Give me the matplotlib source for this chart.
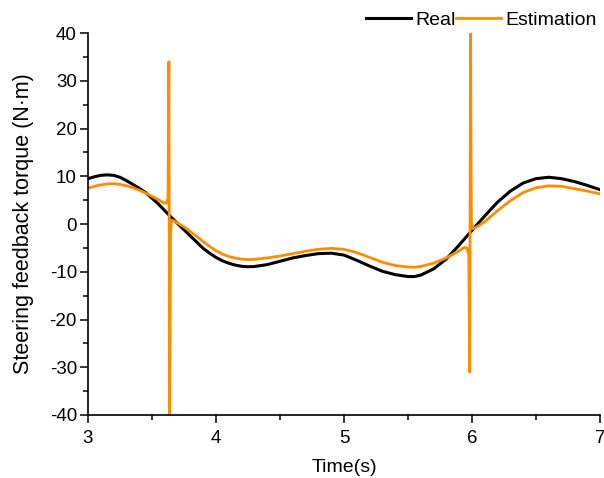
import numpy as np
import matplotlib
matplotlib.use('Agg')
import matplotlib.pyplot as plt
from matplotlib.ticker import MultipleLocator

plt.rcParams['font.family'] = ['Liberation Sans', 'DejaVu Sans']
plt.rcParams['axes.unicode_minus'] = False  # hyphen minus like the original

# Real torque
t_real = [3.0, 3.05, 3.1, 3.15, 3.2, 3.25, 3.3, 3.35, 3.4, 3.45, 3.5, 3.55, 3.6,
          3.65, 3.7, 3.75, 3.8, 3.85, 3.9, 3.95, 4.0, 4.05, 4.1, 4.15, 4.2, 4.25,
          4.3, 4.4, 4.5, 4.6, 4.7, 4.8, 4.9, 5.0, 5.1, 5.2, 5.3, 5.4, 5.5, 5.55,
          5.6, 5.7, 5.8, 5.9, 6.0, 6.1, 6.2, 6.3, 6.4, 6.5, 6.6, 6.7, 6.8, 6.9, 7.0]
y_real = [9.5, 9.9, 10.2, 10.3, 10.2, 9.8, 9.1, 8.3, 7.5, 6.6, 5.4, 4.2, 2.8,
          1.4, 0.1, -1.2, -2.5, -3.8, -5.1, -6.1, -7.0, -7.7, -8.2, -8.6, -8.85, -8.95,
          -8.9, -8.5, -7.8, -7.1, -6.6, -6.2, -6.1, -6.5, -7.6, -8.8, -9.9, -10.6, -11.0, -11.0,
          -10.7, -9.4, -7.3, -4.4, -1.3, 1.7, 4.6, 6.9, 8.6, 9.5, 9.8, 9.5, 8.9, 8.1, 7.2]

# Estimated torque, with the two spikes
t_est = [3.0, 3.05, 3.1, 3.15, 3.2, 3.25, 3.3, 3.35, 3.4, 3.45, 3.5, 3.55, 3.58,
         3.6, 3.615, 3.625, 3.632, 3.638, 3.645, 3.652, 3.66, 3.68, 3.7, 3.75, 3.8,
         3.85, 3.9, 3.95, 4.0, 4.05, 4.1, 4.15, 4.2, 4.25, 4.3, 4.4, 4.5, 4.6, 4.7,
         4.8, 4.9, 5.0, 5.1, 5.2, 5.3, 5.4, 5.5, 5.55, 5.6, 5.7, 5.8, 5.9, 5.94,
         5.96, 5.975, 5.982, 5.988, 5.995, 6.005, 6.02, 6.05, 6.1, 6.2, 6.3, 6.4,
         6.5, 6.6, 6.7, 6.8, 6.9, 7.0]
y_est = [7.5, 7.9, 8.2, 8.4, 8.45, 8.3, 8.0, 7.6, 7.1, 6.5, 5.8, 5.1, 4.6,
         4.35, 4.4, 5.5, 34.0, -40.0, -2.0, 0.6, 0.8, 0.5, 0.2, -0.6, -1.6,
         -2.6, -3.7, -4.7, -5.6, -6.3, -6.8, -7.15, -7.35, -7.45, -7.4, -7.1, -6.7, -6.2, -5.7,
         -5.3, -5.1, -5.3, -6.0, -7.0, -8.0, -8.7, -9.0, -9.05, -8.9, -8.2, -7.1, -5.6, -4.9,
         -5.0, -6.5, -31.0, 40.0, 0.5, -1.0, -0.8, -0.4, 0.5, 2.8, 4.9, 6.6,
         7.6, 8.0, 7.9, 7.4, 6.9, 6.3]

fig = plt.figure(figsize=(6.04, 4.78), dpi=100)
ax = fig.add_axes([0.1457, 0.1318, 0.8477, 0.799])

ax.plot(t_real, y_real, color='black', lw=2.2, label='Real')
ax.plot(t_est, y_est, color='#FF8C00', lw=2.0, label='Estimation')

ax.set_xlim(3, 7)
ax.set_ylim(-40, 40)
ax.xaxis.set_major_locator(MultipleLocator(1))
ax.xaxis.set_minor_locator(MultipleLocator(0.5))
ax.yaxis.set_major_locator(MultipleLocator(10))
ax.yaxis.set_minor_locator(MultipleLocator(5))

for s in ['top', 'right']:
    ax.spines[s].set_visible(False)
for s in ['left', 'bottom']:
    ax.spines[s].set_linewidth(1.2)

ax.tick_params(which='major', direction='out', length=5.5, width=1.1, labelsize=13.5, pad=2.5)
ax.tick_params(axis='x', which='major', pad=5)
ax.tick_params(which='minor', direction='out', length=3.5, width=1.1)

ax.set_xlabel('Time(s)', fontsize=14, labelpad=9)
ax.set_ylabel('Steering feedback torque (N·m)', fontsize=15.5, labelpad=11)

fig.legend(loc='center', bbox_to_anchor=(0.797, 0.958), ncol=2, frameon=False,
           fontsize=14, handlelength=2.3, handletextpad=0.25, columnspacing=0.0,
           borderaxespad=0)

fig.savefig('out.png', dpi=100)
